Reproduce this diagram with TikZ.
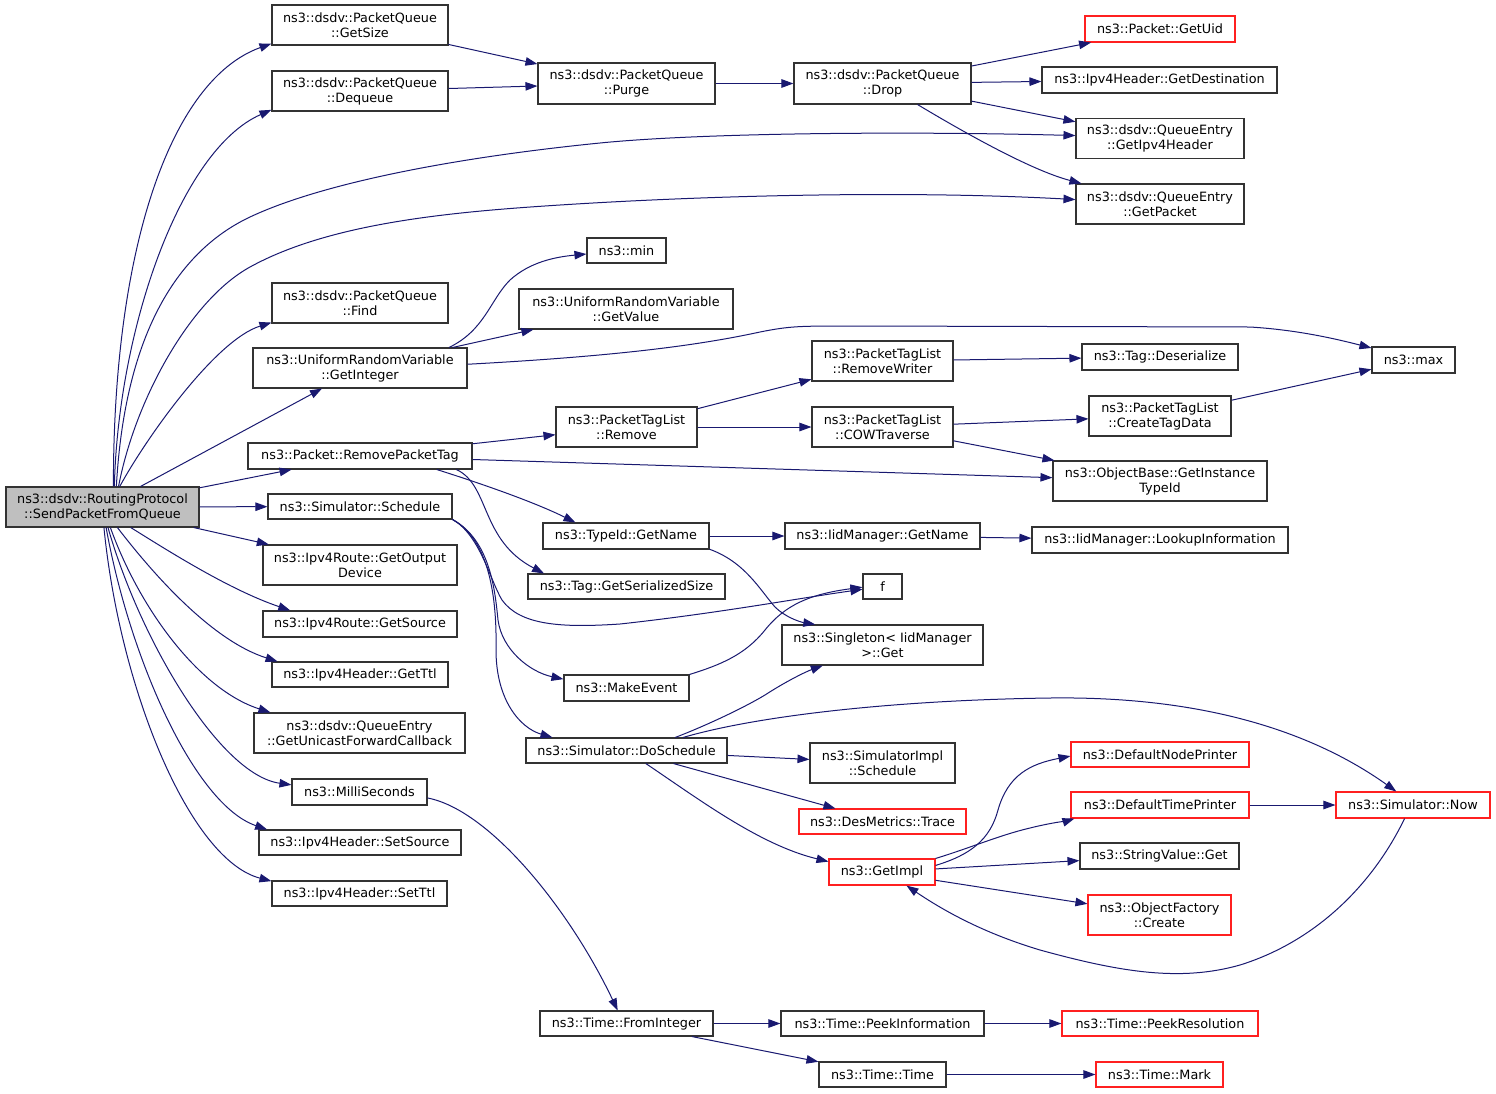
\documentclass[tikz,border=0pt]{standalone}
\usepackage{fontspec}
\newfontfamily\dvfont{DejaVu Sans}
\usetikzlibrary{arrows.meta}
\definecolor{edgec}{HTML}{191970}
\definecolor{boxgray}{HTML}{BFBFBF}
\definecolor{boxline}{HTML}{333333}
\definecolor{redline}{HTML}{FF2020}
\tikzset{
  box/.style={draw=boxline, line width=1.1pt, fill=white, inner sep=0pt, align=center,
    font=\dvfont\fontsize{12.8pt}{15pt}\selectfont, text=black},
  rbox/.style={box, draw=redline},
  e/.style={draw=edgec, line width=1pt, -{Triangle[length=12pt,width=8.5pt]}},
}
\begin{document}
\begin{tikzpicture}[x=1pt,y=-1pt]
\useasboundingbox (0,0) rectangle (1496,1093);
% column 0
\node[box, fill=boxgray, minimum width=193pt, minimum height=40pt] (S) at (102.5,507) {ns3::dsdv::RoutingProtocol\\::SendPacketFromQueue};
% column 1
\node[box, minimum width=176pt, minimum height=40pt] (GetSize) at (360,25) {ns3::dsdv::PacketQueue\\::GetSize};
\node[box, minimum width=176pt, minimum height=40pt] (Dequeue) at (360,91) {ns3::dsdv::PacketQueue\\::Dequeue};
\node[box, minimum width=176pt, minimum height=40pt] (Find) at (360,303) {ns3::dsdv::PacketQueue\\::Find};
\node[box, minimum width=214pt, minimum height=40pt] (GetInteger) at (360,368) {ns3::UniformRandomVariable\\::GetInteger};
\node[box, minimum width=224pt, minimum height=26pt] (RemovePacketTag) at (360,456) {ns3::Packet::RemovePacketTag};
\node[box, minimum width=184pt, minimum height=25pt] (Schedule) at (360,506.5) {ns3::Simulator::Schedule};
\node[box, minimum width=194pt, minimum height=40pt] (GetOutputDevice) at (360,565) {ns3::Ipv4Route::GetOutput\\Device};
\node[box, minimum width=194pt, minimum height=26pt] (GetSource) at (360,624) {ns3::Ipv4Route::GetSource};
\node[box, minimum width=176pt, minimum height=25pt] (GetTtl) at (360,674.5) {ns3::Ipv4Header::GetTtl};
\node[box, minimum width=211pt, minimum height=40pt] (GetUnicast) at (359.5,733) {ns3::dsdv::QueueEntry\\::GetUnicastForwardCallback};
\node[box, minimum width=135pt, minimum height=26pt] (MilliSeconds) at (359.5,792) {ns3::MilliSeconds};
\node[box, minimum width=202pt, minimum height=25pt] (SetSource) at (360,842.5) {ns3::Ipv4Header::SetSource};
\node[box, minimum width=175pt, minimum height=25pt] (SetTtl) at (359.5,893.5) {ns3::Ipv4Header::SetTtl};
% column 2
\node[box, minimum width=177pt, minimum height=41pt] (Purge) at (626.5,83.5) {ns3::dsdv::PacketQueue\\::Purge};
\node[box, minimum width=79pt, minimum height=25pt] (min) at (626.5,250.5) {ns3::min};
\node[box, minimum width=214pt, minimum height=40pt] (GetValue) at (626,309) {ns3::UniformRandomVariable\\::GetValue};
\node[box, minimum width=141pt, minimum height=40pt] (Remove) at (626.5,427) {ns3::PacketTagList\\::Remove};
\node[box, minimum width=166pt, minimum height=26pt] (TypeIdGetName) at (626,536) {ns3::TypeId::GetName};
\node[box, minimum width=197pt, minimum height=25pt] (GetSerializedSize) at (626.5,586.5) {ns3::Tag::GetSerializedSize};
\node[box, minimum width=125pt, minimum height=26pt] (MakeEvent) at (626.5,688) {ns3::MakeEvent};
\node[box, minimum width=201pt, minimum height=25pt] (DoSchedule) at (626.5,750.5) {ns3::Simulator::DoSchedule};
\node[box, minimum width=173pt, minimum height=25pt] (FromInteger) at (626.5,1023.5) {ns3::Time::FromInteger};
% column 3
\node[box, minimum width=177pt, minimum height=41pt] (Drop) at (882.5,83.5) {ns3::dsdv::PacketQueue\\::Drop};
\node[box, minimum width=141pt, minimum height=40pt] (RemoveWriter) at (882.5,361) {ns3::PacketTagList\\::RemoveWriter};
\node[box, minimum width=141pt, minimum height=40pt] (COWTraverse) at (882.5,427) {ns3::PacketTagList\\::COWTraverse};
\node[box, minimum width=195pt, minimum height=26pt] (IidGetName) at (882.5,536) {ns3::IidManager::GetName};
\node[box, minimum width=39pt, minimum height=25pt] (f) at (882.5,586.5) {f};
\node[box, minimum width=201pt, minimum height=40pt] (Singleton) at (882.5,645) {ns3::Singleton< IidManager\\>::Get};
\node[box, minimum width=145pt, minimum height=40pt] (SimImplSchedule) at (882.5,763) {ns3::SimulatorImpl\\::Schedule};
\node[rbox, minimum width=167pt, minimum height=25pt] (DesMetrics) at (882.5,821.5) {ns3::DesMetrics::Trace};
\node[rbox, minimum width=106pt, minimum height=26pt] (GetImpl) at (882,872) {ns3::GetImpl};
\node[box, minimum width=203pt, minimum height=25pt] (PeekInformation) at (882.5,1023.5) {ns3::Time::PeekInformation};
\node[box, minimum width=127pt, minimum height=25pt] (TimeTime) at (882.5,1074.5) {ns3::Time::Time};
% column 4
\node[rbox, minimum width=150pt, minimum height=26pt] (GetUid) at (1160,29) {ns3::Packet::GetUid};
\node[box, minimum width=235pt, minimum height=26pt] (GetDestination) at (1159.5,80) {ns3::Ipv4Header::GetDestination};
\node[box, minimum width=168pt, minimum height=40pt] (GetIpv4Header) at (1160,138.5) {ns3::dsdv::QueueEntry\\::GetIpv4Header};
\node[box, minimum width=168pt, minimum height=40pt] (GetPacket) at (1160,204) {ns3::dsdv::QueueEntry\\::GetPacket};
\node[box, minimum width=156pt, minimum height=26pt] (Deserialize) at (1160,357) {ns3::Tag::Deserialize};
\node[box, minimum width=142pt, minimum height=40pt] (CreateTagData) at (1160,416) {ns3::PacketTagList\\::CreateTagData};
\node[box, minimum width=214pt, minimum height=40pt] (GetInstanceTypeId) at (1160,481) {ns3::ObjectBase::GetInstance\\TypeId};
\node[box, minimum width=256pt, minimum height=26pt] (LookupInformation) at (1160,540) {ns3::IidManager::LookupInformation};
\node[rbox, minimum width=178pt, minimum height=25pt] (DefaultNodePrinter) at (1160,754.5) {ns3::DefaultNodePrinter};
\node[rbox, minimum width=178pt, minimum height=26pt] (DefaultTimePrinter) at (1160,805) {ns3::DefaultTimePrinter};
\node[box, minimum width=159pt, minimum height=26pt] (StringValueGet) at (1159.5,856) {ns3::StringValue::Get};
\node[rbox, minimum width=143pt, minimum height=40pt] (ObjectFactoryCreate) at (1159.5,915) {ns3::ObjectFactory\\::Create};
\node[rbox, minimum width=196pt, minimum height=25pt] (PeekResolution) at (1160,1023.5) {ns3::Time::PeekResolution};
\node[rbox, minimum width=127pt, minimum height=25pt] (Mark) at (1159.5,1074.5) {ns3::Time::Mark};
% column 5
\node[box, minimum width=83pt, minimum height=26pt] (max) at (1413.5,360) {ns3::max};
\node[rbox, minimum width=154pt, minimum height=26pt] (SimNow) at (1413,805) {ns3::Simulator::Now};

% ---- edges from S (upwards)
\draw[e] (S.62) .. controls (113,250) and (170,80) .. ([yshift=2pt]GetSize.south west);
\draw[e] (S.60) .. controls (118,330) and (180,150) .. (Dequeue.192);
\draw[e] (S.56) .. controls (125,330) and (180,250) .. (250,217)
   .. controls (320,184) and (450,158) .. (600,143)
   .. controls (700,133) and (900,131) .. (GetIpv4Header.178);
\draw[e] (S.52) .. controls (135,400) and (190,300) .. (250,267)
   .. controls (330,223) and (450,212) .. (560,205)
   .. controls (700,196) and (900,190) .. (GetPacket.177);
\draw[e] (S.50) .. controls (145,440) and (215,340) .. ([yshift=1pt]Find.south west);
\draw[e] (S) -- (GetInteger);
\draw[e] (S) -- (RemovePacketTag);
\draw[e] (S) -- (Schedule);
% ---- edges from S (downwards)
\draw[e] (S) -- (GetOutputDevice);
\draw[e] (S.-36) .. controls (170,552) and (230,590) .. (GetSource.169.5);
\draw[e] (S.-54) .. controls (150,570) and (210,640) .. (GetTtl.171);
\draw[e] (S.-69) .. controls (140,610) and (200,690) .. (GetUnicast.167);
\draw[e] (S.-75) .. controls (140,640) and (220,775) .. (MilliSeconds.174);
\draw[e] (S.-80) .. controls (130,660) and (195,805) .. (SetSource.172);
\draw[e] (S.-86) .. controls (120,690) and (190,860) .. (SetTtl.172.5);

% ---- PacketQueue chain
\draw[e] (GetSize) -- (Purge);
\draw[e] (Dequeue) -- (Purge);
\draw[e] (Purge) -- (Drop);
\draw[e] (Drop) -- (GetUid);
\draw[e] (Drop) -- (GetDestination);
\draw[e] (Drop) -- (GetIpv4Header);
\draw[e] (Drop) .. controls (960,130) and (1030,170) .. (GetPacket);

% ---- random variable
\draw[e] (GetInteger.13) .. controls (485,330) and (490,300) .. (510,280)
   .. controls (530,262) and (555,257) .. (min.185);
\draw[e] (GetInteger) -- (GetValue);
\draw[e] (GetInteger.2) .. controls (620,356) and (700,345) .. (760,332)
   .. controls (790,326) and (800,326) .. (850,326)
   -- (1250,327) .. controls (1300,330) and (1340,340) .. (max.164);

% ---- packet tags
\draw[e] (RemovePacketTag) -- (Remove);
\draw[e] (RemovePacketTag) -- (GetInstanceTypeId);
\draw[e] (RemovePacketTag.-10.5) .. controls (470,480) and (530,500) .. (TypeIdGetName.165);
\draw[e] (RemovePacketTag.-8.2) .. controls (490,485) and (480,540) .. (GetSerializedSize.171.3);
\draw[e] (Remove) -- (RemoveWriter);
\draw[e] (Remove) -- (COWTraverse);
\draw[e] (RemoveWriter) -- (Deserialize);
\draw[e] (COWTraverse) -- (CreateTagData);
\draw[e] (COWTraverse) -- (GetInstanceTypeId);
\draw[e] (CreateTagData) -- (max);

% ---- type id
\draw[e] (TypeIdGetName) -- (IidGetName);
\draw[e] (IidGetName) -- (LookupInformation);
\draw[e] (TypeIdGetName.-9.3) .. controls (745,562) and (760,590) .. (775,607)
   .. controls (785,617) and (800,622) .. (Singleton.163.5);

% ---- scheduling
\draw[e] (Schedule.-8.2) .. controls (480,535) and (490,580) .. (502,600)
   .. controls (520,625) and (560,628) .. (620,624)
   .. controls (720,613) and (800,598) .. (f.188);
\draw[e] (Schedule.-8.2) .. controls (490,540) and (495,590) .. (498,620)
   .. controls (502,650) and (530,672) .. (MakeEvent.172.7);
\draw[e] (Schedule.-8.2) .. controls (490,540) and (497,600) .. (496,650)
   .. controls (496,700) and (520,728) .. (DoSchedule.170.7);
\draw[e] (MakeEvent.north east) .. controls (720,665) and (745,655) .. (765,630)
   .. controls (785,605) and (810,594) .. (f.182);
\draw[e] (DoSchedule.15.4) .. controls (700,728) and (740,710) .. (765,695)
   .. controls (785,682) and (805,672) .. (Singleton.199.5);
\draw[e] (DoSchedule.13.2) .. controls (760,715) and (900,700) .. (1050,698)
   .. controls (1200,696) and (1310,730) .. (SimNow.141);
\draw[e] (DoSchedule) -- (SimImplSchedule);
\draw[e] (DoSchedule) -- (DesMetrics);
\draw[e] (DoSchedule.-34) .. controls (700,800) and (760,845) .. (GetImpl.169.3);

% ---- GetImpl
\draw[e] (GetImpl.7.5) .. controls (970,855) and (990,840) .. (998,810)
   .. controls (1008,775) and (1030,764) .. (DefaultNodePrinter.181.6);
\draw[e] (GetImpl.north east) .. controls (970,848) and (1000,835) .. (1030,828)
   .. controls (1050,823) and (1070,820) .. (DefaultTimePrinter.189.8);
\draw[e] (GetImpl) -- (StringValueGet);
\draw[e] (GetImpl) -- (ObjectFactoryCreate);
\draw[e] (DefaultTimePrinter) -- (SimNow);
\draw[e] (SimNow.238.4) .. controls (1375,880) and (1320,940) .. (1240,965)
   .. controls (1180,982) and (1120,972) .. (1040,950)
   .. controls (990,935) and (950,915) .. (GetImpl.-29.5);

% ---- time
\draw[e] (MilliSeconds.-5.9) .. controls (490,810) and (570,910) .. (FromInteger.124);
\draw[e] (FromInteger) -- (PeekInformation);
\draw[e] (FromInteger) -- (TimeTime);
\draw[e] (PeekInformation) -- (PeekResolution);
\draw[e] (TimeTime) -- (Mark);
\end{tikzpicture}
\end{document}
